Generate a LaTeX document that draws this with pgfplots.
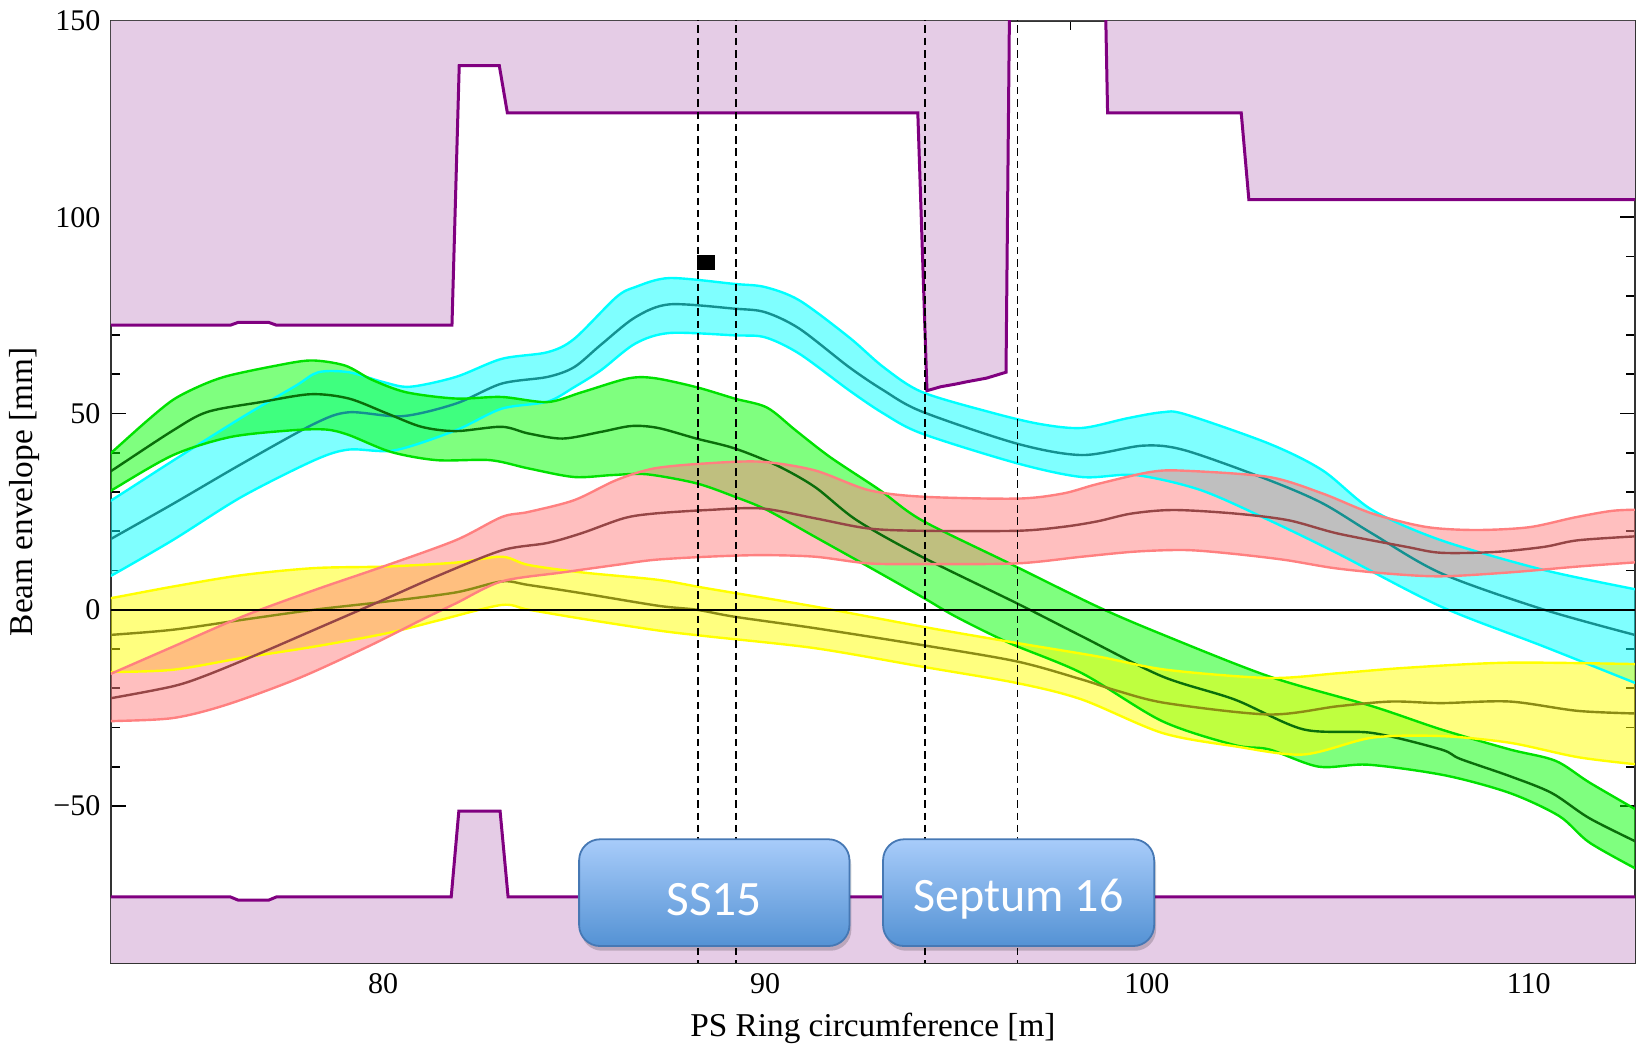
\documentclass[border=0pt]{standalone}
\usepackage{pgfplots}
\pgfplotsset{compat=1.18}
\usepgfplotslibrary{fillbetween}
\usepackage{fontspec}
\setmainfont{Liberation Serif}
\newfontfamily\boxfont{Carlito}
\definecolor{apfill}{RGB}{229,204,230}
\definecolor{apline}{RGB}{128,0,128}
\definecolor{cyanedge}{RGB}{0,255,255}
\definecolor{cyanmid}{RGB}{20,145,145}
\definecolor{greenedge}{RGB}{0,225,0}
\definecolor{greenfill}{RGB}{0,255,0}
\definecolor{greenmid}{RGB}{10,110,10}
\definecolor{rededge}{RGB}{255,128,128}
\definecolor{redmid}{RGB}{150,70,70}
\definecolor{yellowedge}{RGB}{255,255,0}
\definecolor{yellowmid}{RGB}{140,140,20}
\definecolor{boxtop}{RGB}{168,204,250}
\definecolor{boxbot}{RGB}{84,146,212}
\definecolor{boxedge}{RGB}{70,120,180}
\begin{document}
\begin{tikzpicture}
\begin{axis}[
  scale only axis, width=508pt, height=314pt,
  xmin=72.87, xmax=112.78, ymin=-90, ymax=150,
  xtick={80,90,100,110}, xticklabels={80,90,100,110}, minor x tick num=4,
  ytick={-50,0,50,100,150}, yticklabels={−50,0,50,100,150}, minor y tick num=4,
  tick align=inside, major tick length=5pt, minor tick length=3pt,
  tick style={black, line width=0.6pt},
  axis line style={line width=0.8pt, black!80},
  ticklabel style={font=\fontsize{10}{12}\selectfont},
  xlabel={PS Ring circumference [m]}, ylabel={Beam envelope [mm]},
  every axis x label/.style={at={(axis description cs:0.5,0)}, anchor=center, yshift=-21.7pt, font=\fontsize{11.1}{13}\selectfont},
  every axis y label/.style={at={(axis description cs:0,0.5)}, xshift=-28.7pt, rotate=90, anchor=center, font=\fontsize{11.1}{13}\selectfont},
  clip=true,
]
% aperture upper
\addplot[fill=apfill, draw=none] coordinates {(72.5,150) (72.5,72.5) (76.0,72.5) (76.2,73.2) (77.0,73.2) (77.2,72.5) (81.8,72.5) (81.99,138.6) (83.04,138.6) (83.25,126.6) (94.0,126.6) (94.24,55.8) (94.6,56.8) (95.0,57.5) (95.3,58.1) (95.8,59.0) (96.31,60.5) (96.4,150) (98.92,150) (98.97,126.6) (102.47,126.6) (102.67,104.5) (113,104.5) (113,150)} -- cycle;
\addplot[apline, line width=1pt] coordinates {(72.5,72.5) (76.0,72.5) (76.2,73.2) (77.0,73.2) (77.2,72.5) (81.8,72.5) (81.99,138.6) (83.04,138.6) (83.25,126.6) (94.0,126.6) (94.24,55.8) (94.6,56.8) (95.0,57.5) (95.3,58.1) (95.8,59.0) (96.31,60.5) (96.4,152)};
\addplot[apline, line width=1pt] coordinates {(98.92,152) (98.97,126.6) (102.47,126.6) (102.67,104.5) (113,104.5)};
% aperture lower
\addplot[fill=apfill, draw=none] coordinates {(72.5,-92) (72.5,-73.2) (76.0,-73.2) (76.2,-74) (77.0,-74) (77.2,-73.2) (81.78,-73.2) (81.98,-51.3) (83.06,-51.3) (83.27,-73.2) (113,-73.2) (113,-92)} -- cycle;
\addplot[apline, line width=1pt] coordinates {(72.5,-73.2) (76.0,-73.2) (76.2,-74) (77.0,-74) (77.2,-73.2) (81.78,-73.2) (81.98,-51.3) (83.06,-51.3) (83.27,-73.2) (113,-73.2)};

% cyan band
\addplot[name path=cu, cyanedge, line width=0.8pt, smooth] coordinates {(72.5,26) (72.9,28) (74.5,38) (76.3,49) (77.7,57) (78.3,60.5) (79.1,60.5) (80.0,58) (80.7,56.8) (81.9,59.3) (83.1,63.9) (84.3,65.6) (85.0,69) (86.1,79.6) (86.6,82.2) (87.5,84.5) (89.2,83.0) (90.0,82.2) (90.9,78.8) (92.2,69.4) (93.1,61.8) (94.1,55.5) (95.9,50.3) (97.2,47.3) (98.3,46.3) (99.5,48.8) (100.4,50.3) (101.0,49.8) (103.2,42.3) (104.6,35.5) (105.9,25.4) (107.7,17.7) (110.4,10.1) (113,4.8)};
\addplot[name path=cl, cyanedge, line width=0.8pt, smooth] coordinates {(72.5,7) (72.9,8.8) (74.5,17.8) (76.3,28.8) (78.2,38.1) (79.1,40.8) (80.3,40.6) (81.9,45.7) (83.1,51.2) (84.3,53) (85.0,56.7) (85.7,61) (86.6,67.8) (87.5,70.5) (89.2,69.9) (90.0,69.4) (90.9,65.2) (92.2,55.9) (93.1,50.0) (94.1,44.9) (96.6,37.3) (98.3,33.8) (99.7,34.3) (101.4,30.5) (103.2,22.8) (105.0,14.3) (107.7,0.8) (110.4,-9.4) (113,-19.5)};
\addplot[fill=cyanedge, fill opacity=0.5, draw=none] fill between[of=cu and cl];
\addplot[cyanmid, line width=0.8pt, smooth] coordinates {(72.5,16) (72.9,18.2) (74.5,27) (76.3,37.2) (78.2,47.4) (79.1,50.3) (80.5,49.3) (81.9,52.5) (83.1,57.6) (84.3,59.3) (85.0,61.8) (85.7,67.5) (86.6,74.5) (87.5,77.8) (89.2,76.7) (90.0,75.8) (90.9,71.6) (92.2,61.8) (93.1,55.9) (94.1,50.5) (96.6,42.3) (98.3,39.4) (99.9,41.8) (101.0,40.6) (103.2,33.0) (104.6,27.1) (105.9,19.4) (107.7,9.3) (110.4,0) (113,-7)};

% green band
\addplot[name path=gu, greenedge, line width=0.8pt, smooth] coordinates {(72.5,37) (72.9,40.2) (73.8,48) (74.5,53.5) (75.2,57) (75.9,59.5) (77.1,62) (78.1,63.5) (79.0,62.2) (79.7,58.6) (80.6,55.4) (81.9,53.8) (83.1,54.2) (84.3,52.9) (85.2,55.4) (86.4,58.9) (87.1,59.0) (88.2,56.7) (89.2,53.8) (90.05,51.5) (90.8,45.7) (91.7,38.9) (93.0,30.5) (94.1,22.8) (96.4,11.8) (98.7,0.8) (100.4,-6.3) (103.2,-17.0) (105.9,-24.6) (107.7,-30.5) (109.5,-35.6) (110.7,-38.5) (111.6,-44.1) (113,-52)};
\addplot[name path=gl, greenedge, line width=0.8pt, smooth] coordinates {(72.5,28) (72.9,30.5) (74.5,39.4) (76.0,44.0) (77.6,45.7) (78.5,45.9) (79.1,44.5) (80.2,40.2) (81.4,38.1) (82.8,38.1) (83.8,36.0) (85.0,33.8) (86.0,34.3) (86.9,34.5) (88.2,32.2) (89.2,28.8) (90.05,25.4) (91.3,18.6) (92.7,11.0) (94.1,3.3) (95.0,-1.8) (96.4,-8.5) (98.3,-16.2) (100.4,-28.4) (102.3,-34.5) (103.2,-35.6) (104.5,-40) (105.8,-39.5) (107.8,-42.2) (109.5,-46.7) (110.8,-52.6) (111.6,-59.4) (113,-67)};
\addplot[fill=greenfill, fill opacity=0.5, draw=none] fill between[of=gu and gl];
\addplot[greenmid, line width=0.8pt, smooth] coordinates {(72.5,33) (72.9,35.5) (74.5,45.7) (75.4,50.4) (76.8,52.9) (78.1,54.9) (79.1,53.8) (80.1,50.0) (81.0,46.6) (81.9,45.5) (83.1,46.6) (83.8,44.9) (84.7,43.6) (85.7,45.3) (86.5,46.8) (87.2,46.3) (88.2,43.6) (89.2,41.1) (90.3,36.8) (91.3,31.3) (92.4,22.8) (94.1,13.5) (96.6,1.6) (98.3,-6.8) (100.4,-17) (102.3,-22.9) (104.1,-30.5) (105.9,-31.4) (107.7,-35.6) (108.2,-38) (109.5,-42.4) (110.6,-46.7) (111.6,-53.2) (113,-60)};

% yellow band
\addplot[name path=yu, yellowedge, line width=0.8pt, smooth] coordinates {(72.5,2.5) (72.9,3.0) (74.5,5.9) (76.3,8.8) (78.2,10.6) (80.1,11.0) (81.9,12.0) (83.1,13.5) (83.8,11.4) (85.2,9.5) (87.2,7.6) (88.5,5.4) (91.3,0.8) (94.1,-4.3) (96.6,-8.5) (98.7,-11.9) (100.5,-15.3) (103.2,-17.4) (105.0,-16.2) (106.8,-14.8) (109.5,-13.5) (113,-13.9)};
\addplot[name path=yl, yellowedge, line width=0.8pt, smooth] coordinates {(72.5,-16) (72.9,-15.9) (74.5,-15.3) (76.3,-12.3) (78.2,-9.4) (80.1,-6.0) (81.5,-2.6) (83.1,1.2) (83.8,0) (85.2,-2.3) (87.2,-5.3) (88.5,-6.8) (91.3,-9.8) (94.1,-14.5) (96.6,-18.7) (98.3,-22.9) (100.4,-31.4) (102.3,-34.8) (104.1,-36.9) (105.9,-32.6) (107.7,-32.2) (109.5,-33.9) (111.3,-37.6) (113,-39.6)};
\addplot[fill=yellowedge, fill opacity=0.5, draw=none] fill between[of=yu and yl];
\addplot[yellowmid, line width=0.8pt, smooth] coordinates {(72.5,-6.6) (72.9,-6.4) (74.5,-5.1) (76.3,-2.6) (78.2,0) (80.1,2.1) (81.9,4.4) (83.1,7.2) (83.8,6.3) (85.2,4.2) (87.2,1.0) (88.2,0) (89.2,-1.8) (91.3,-4.7) (94.1,-9.0) (96.6,-13.2) (98.3,-17.8) (99.2,-20.6) (100.5,-23.8) (103.2,-26.7) (105.0,-24.6) (106.4,-23.4) (107.7,-23.8) (109.5,-23.4) (111.3,-25.8) (113,-26.5)};

% red band
\addplot[name path=ru, rededge, line width=0.8pt, smooth] coordinates {(72.5,-18) (72.9,-16.2) (74.5,-9.4) (76.3,-1.8) (78.2,5.0) (80.0,11.0) (81.9,17.7) (83.1,23.6) (83.8,24.9) (85.0,27.9) (86.1,33.0) (87.1,36.0) (88.5,37.3) (89.9,37.7) (91.3,35.5) (92.7,30.5) (94.1,28.8) (96.6,28.3) (97.8,29.6) (98.7,32) (100.1,35.1) (101.0,35.4) (103.2,33.8) (104.6,29.6) (105.9,24.5) (107.3,21.1) (108.6,20.3) (110.0,21.0) (111.2,23.5) (112.2,25.2) (113,25.5)};
\addplot[name path=rl, rededge, line width=0.8pt, smooth] coordinates {(72.5,-28.5) (72.9,-28.4) (74.5,-27.6) (75.9,-24.2) (77.8,-17.4) (79.6,-9.4) (81.0,-2.6) (81.9,1.6) (83.1,7.2) (84.7,9.5) (86.1,11.4) (87.1,12.7) (88.5,13.5) (89.9,13.9) (91.3,13.5) (92.7,11.8) (94.1,11.6) (96.6,11.8) (98.3,13.5) (99.7,14.8) (101.0,15.2) (102.2,14.3) (103.6,12.7) (104.9,10.6) (106.3,9.2) (107.7,8.5) (109.5,9.5) (111.3,11.0) (113,12.2)};
\addplot[fill=rededge, fill opacity=0.5, draw=none] fill between[of=ru and rl];
\addplot[redmid, line width=0.8pt, smooth] coordinates {(72.5,-23) (72.9,-22.5) (74.5,-19.5) (75.4,-16.6) (76.8,-11.0) (78.2,-5.1) (80.0,2.5) (81.4,8.5) (83.1,15.1) (84.3,17.0) (85.2,19.5) (86.3,23.3) (87.1,24.5) (88.5,25.4) (89.9,25.8) (91.3,23.3) (92.7,20.7) (94.1,20.1) (96.6,20.1) (97.8,21.1) (98.7,22.5) (99.6,24.5) (100.7,25.4) (102.3,24.5) (103.7,22.8) (105.0,19.4) (106.8,16.0) (107.7,14.5) (109.1,14.7) (110.4,16.0) (111.3,17.7) (113,18.8)};

% zero line
\addplot[black, line width=0.6pt] coordinates {(72.5,0) (113,0)};
% dashed lines
\addplot[black, line width=0.6pt, dash pattern=on 2.5pt off 1.6pt] coordinates {(88.24,152) (88.24,-92)};
\addplot[black, line width=0.6pt, dash pattern=on 2.5pt off 1.6pt] coordinates {(89.23,152) (89.23,-92)};
\addplot[black, line width=0.6pt, dash pattern=on 2.5pt off 1.6pt] coordinates {(94.19,152) (94.19,-92)};
\addplot[black, line width=0.6pt, dash pattern=on 2.5pt off 1.6pt] coordinates {(96.61,152) (96.61,-92)};
% black marker
\addplot[only marks, mark=square*, black, mark size=2.6pt, mark options={xscale=1.1, yscale=0.85}] coordinates {(88.46,88.5)};

% box anchors
\coordinate (A1) at (axis cs:85.13,-58.5);
\coordinate (B1) at (axis cs:92.21,-85.7);
\coordinate (S1a) at (axis cs:85.18,-59.8);
\coordinate (S1b) at (axis cs:92.26,-86.9);
\coordinate (T1) at (axis cs:88.67,-73.8);
\coordinate (A2) at (axis cs:93.09,-58.5);
\coordinate (B2) at (axis cs:100.19,-85.7);
\coordinate (S2a) at (axis cs:93.14,-59.8);
\coordinate (S2b) at (axis cs:100.24,-86.9);
\coordinate (T2) at (axis cs:96.64,-73.8);
\coordinate (SW) at (rel axis cs:0,0);
\coordinate (NE) at (rel axis cs:1,1);
\end{axis}
% boxes on top of everything
\fill[black, opacity=0.18, rounded corners=7pt] (S1a) rectangle (S1b);
\draw[boxedge, line width=0.6pt, rounded corners=7pt, top color=boxtop, bottom color=boxbot] (A1) rectangle (B1);
\node[white, font=\boxfont\fontsize{16.5}{19}\selectfont] at (T1) {SS15};
\fill[black, opacity=0.18, rounded corners=7pt] (S2a) rectangle (S2b);
\draw[boxedge, line width=0.6pt, rounded corners=7pt, top color=boxtop, bottom color=boxbot] (A2) rectangle (B2);
\node[white, font=\boxfont\fontsize{16}{19}\selectfont] at (T2) {Septum 16};
\pgfresetboundingbox
\path[use as bounding box] ([shift={(-37pt,-27.7pt)}]SW) rectangle ([shift={(1.7pt,7pt)}]NE);
\end{tikzpicture}
\end{document}
